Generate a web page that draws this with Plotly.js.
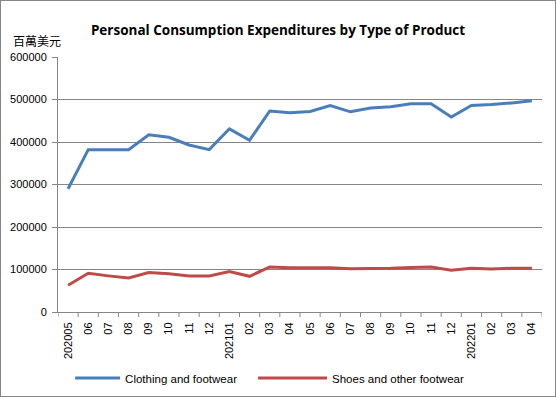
<!DOCTYPE html>
<html><head><meta charset="utf-8">
<script src="https://cdn.plot.ly/plotly-3.0.1.min.js"></script>
<style>html,body{margin:0;padding:0;background:#fff}#c{width:554px;height:395px;border:1px solid #868686}</style>
</head><body><div id="c"></div>
<script>
const months = ["202005","06","07","08","09","10","11","12","202101","02","03","04","05","06","07","08","09","10","11","12","202201","02","03","04"];
const clothing = [290000,382000,382000,382000,417000,411000,393000,382000,431000,404000,473000,469000,472000,486000,471000,480000,483000,490000,490000,459000,486000,488000,492000,497000];
const shoes = [63000,91000,85000,80000,93000,90000,85000,85000,95000,84000,106000,104000,104000,104000,102000,102000,103000,105000,106000,98000,103000,101000,103000,103000];
const seriesNames = ["Clothing and footwear","Shoes and other footwear"];
const idx = months.map((m,i)=>i);
const traces = [
 {x: idx, y: clothing, name: seriesNames[0], type:'scatter', mode:'lines', line:{color:'#4A7EBB', width:3}, legend:'legend'},
 {x: idx, y: shoes, name: seriesNames[1], type:'scatter', mode:'lines', line:{color:'#BE4B48', width:3}, legend:'legend2'}
];
const grid = '#868686';
const legY = 1 - 377/395;
const layout = {
 width:554, height:395,
 margin:{l:57, r:13, t:56, b:84, autoexpand:false},
 paper_bgcolor:'#fff', plot_bgcolor:'#fff',
 font:{family:'"Liberation Sans", Arial, sans-serif', size:11, color:'#000'},
 title:{text:'<b>Personal Consumption Expenditures by Type of Product</b>', x:0.5, xanchor:'center', y:1-29/395, yanchor:'middle', font:{family:'"Open Sans", sans-serif', size:13.5, color:'#000'}},
 xaxis:{type:'linear', range:[-0.5,23.5], tickmode:'array', tickvals:idx, ticktext:months, tickangle:-90, automargin:false,
   showline:true, linecolor:grid, linewidth:1, showgrid:false, zeroline:false, ticks:'', fixedrange:true, ticklabelstandoff:5},
 yaxis:{range:[0,600000], dtick:100000, tickformat:'d', showline:true, linecolor:grid, linewidth:1, ticks:'outside', ticklen:5, tickcolor:grid,
   showgrid:true, gridcolor:grid, gridwidth:1, zeroline:false, fixedrange:true, automargin:false, ticklabelstandoff:3},
 showlegend:true,
 legend:{orientation:'h', x:0.025, xanchor:'left', yref:'container', y:legY, yanchor:'middle', itemwidth:45, font:{size:11.5}},
 legend2:{orientation:'h', x:0.403, xanchor:'left', yref:'container', y:legY, yanchor:'middle', itemwidth:69, font:{size:11.5}},
 annotations:[{text:'百萬美元', xref:'paper', yref:'paper', x:-0.097, y:1+17/255, xanchor:'left', yanchor:'middle', showarrow:false, font:{family:'"Noto Sans CJK TC", sans-serif', size:12, color:'#000'}}],
 shapes: idx.concat([idx.length]).map(i=>({type:'line', xref:'x', yref:'paper', x0:i-0.5, x1:i-0.5, y0:0, y1:-5/255, line:{color:grid, width:1}}))
};
Plotly.newPlot('c', traces, layout, {displayModeBar:false, staticPlot:true});
</script></body></html>
